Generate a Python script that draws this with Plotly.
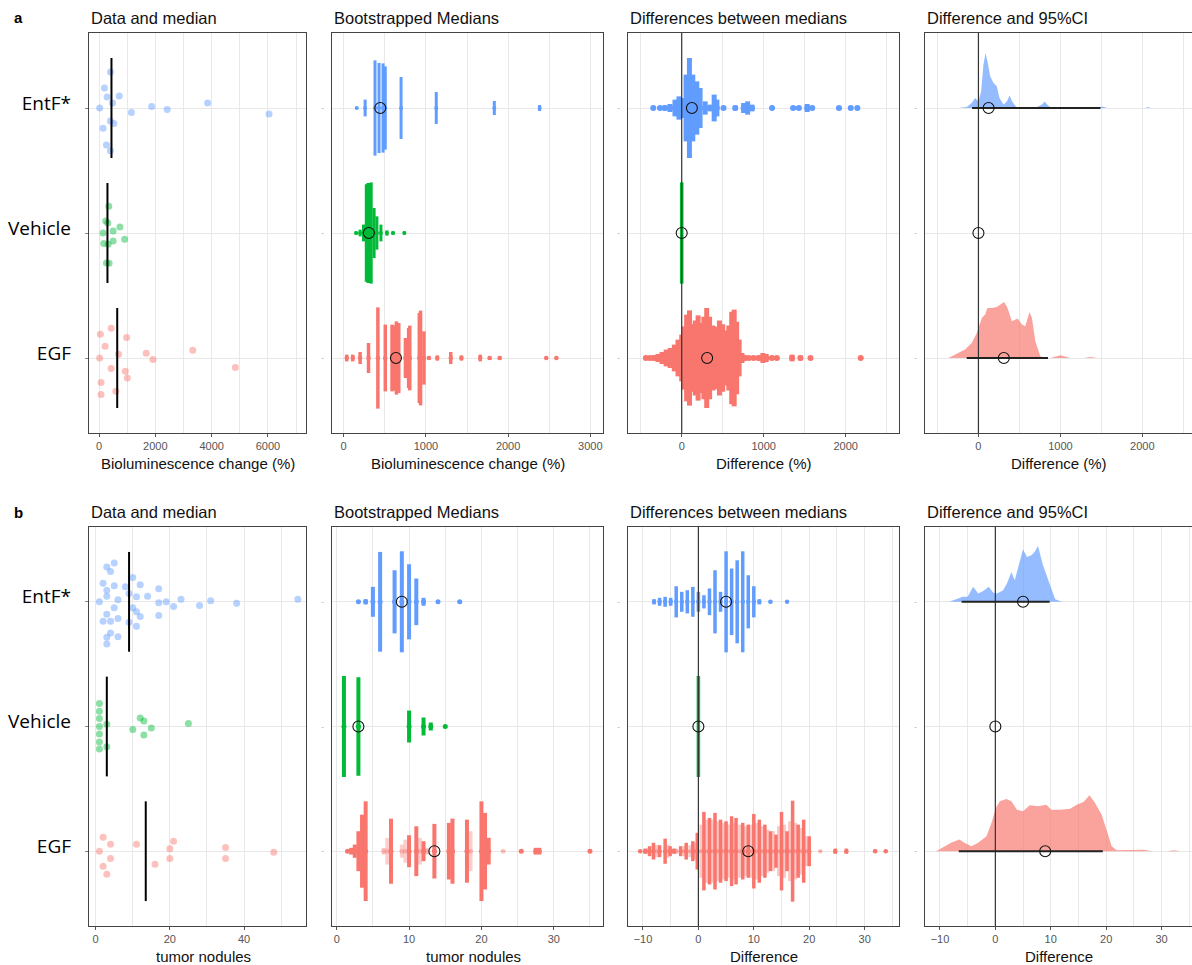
import plotly.graph_objects as go

W, H = 1192, 965

# ---------------- categories ----------------
groups = ["EGF", "Vehicle", "EntF*"]          # bottom -> top
group_pos = [1, 2, 3]
group_rgb = {"EntF*": (97, 156, 255), "Vehicle": (0, 186, 56), "EGF": (248, 118, 109)}

panel_titles = ["Data and median", "Bootstrapped Medians",
                "Differences between medians", "Difference and 95%CI"]
xtitles_a = ["Bioluminescence change (%)", "Bioluminescence change (%)", "Difference (%)", "Difference (%)"]
xtitles_b = ["tumor nodules", "tumor nodules", "Difference", "Difference"]
panel_letters = ["a", "b"]

# ---------------- row a : raw data ----------------
a_data_entf = [407, 192, 719, 288, 479, 24, 1869, 2420, 3857, 6038, 1150, 407, 527, 144, 264, 407]
a_jit_entf = [0.288, 0.16, 0.096, 0.088, 0.04, 0, 0.013, -0.011, 0.04, -0.048, -0.035, -0.104, -0.125, -0.163, -0.296, -0.341]
a_data_veh = [347, 240, 311, 743, 144, 503, 910, 168, 323, 503, 264, 359]
a_jit_veh = [0.213, 0.096, 0.08, 0.048, 0, 0.016, -0.05, -0.085, -0.09, -0.064, -0.24, -0.243]
a_data_egf = [431, 48, 982, 216, 695, 1677, 3330, 24, 1916, 431, 934, 1006, 4840, 72, 599, 72]
a_jit_egf = [0.237, 0.19, 0.163, 0.093, 0.03, 0.037, 0.061, 0, -0.013, -0.085, -0.107, -0.16, -0.077, -0.197, -0.267, -0.293]
a_median = {"EntF*": 443, "Vehicle": 300, "EGF": 647}

# row a : bootstrapped medians (value, half-height of stack)
a_boot_entf_x = [159, 261, 381, 430, 479, 506, 698, 1126, 1832, 2383]
a_boot_entf_h = [0.008, 0.067, 0.381, 0.36, 0.357, 0.333, 0.248, 0.128, 0.056, 0.024]
a_boot_veh_x = [151, 200, 241, 275, 295, 315, 335, 370, 404, 453, 526, 600, 738]
a_boot_veh_h = [0.013, 0.027, 0.067, 0.39, 0.4, 0.4, 0.405, 0.2, 0.133, 0.067, 0.021, 0.013, 0.013]
a_boot_egf_x = [37, 110, 200, 302, 416, 506, 588, 620, 641, 670, 751, 790, 804, 920, 935, 976, 1037, 1139, 1302, 1432, 1661, 1775, 1897, 2464, 2587]
a_boot_egf_h = [0.027, 0.027, 0.048, 0.12, 0.405, 0.267, 0.267, 0.26, 0.293, 0.28, 0.16, 0.24, 0.259, 0.36, 0.379, 0.213, 0.013, 0.021, 0.048, 0.021, 0.027, 0.016, 0.016, 0.008, 0.008]
a_boot_median = {"EntF*": 445, "Vehicle": 306, "EGF": 636}

# row a : differences between bootstrapped medians
a_diff_entf_x = [-347, -265, -204, -143, -82, -33, 0, 53, 94, 135, 184, 224, 286, 347, 396, 429, 510, 653, 755, 804, 857, 1102, 1359, 1428, 1530, 1591, 1918, 2061, 2142]
a_diff_entf_h = [0.008, 0.013, 0.021, 0.032, 0.067, 0.093, 0.08, 0.267, 0.4, 0.267, 0.213, 0.16, 0.053, 0.027, 0.107, 0.067, 0.013, 0.019, 0.04, 0.053, 0.027, 0.008, 0.013, 0.016, 0.032, 0.016, 0.011, 0.016, 0.008]
a_diff_veh_x = [0]
a_diff_veh_h = [0.405]
a_diff_egf_x = [-437, -390, -340, -290, -240, -190, -140, -90, -45, 0, 30, 60, 95, 130, 165, 200, 235, 270, 305, 340, 380, 420, 460, 500, 535, 575, 610, 640, 670, 700, 735, 770, 820, 877, 940, 990, 1030, 1100, 1160, 1346, 1448, 1571, 2183]
a_diff_egf_h = [0.008, 0.011, 0.021, 0.032, 0.048, 0.067, 0.08, 0.107, 0.147, 0.187, 0.253, 0.347, 0.381, 0.27, 0.3, 0.341, 0.28, 0.33, 0.4, 0.33, 0.26, 0.25, 0.3, 0.27, 0.22, 0.26, 0.37, 0.387, 0.29, 0.147, 0.04, 0.021, 0.016, 0.016, 0.021, 0.04, 0.032, 0.013, 0.013, 0.027, 0.019, 0.016, 0.008]
a_diff_median = {"EntF*": 124, "Vehicle": 0, "EGF": 310}

# row a : density of differences and 95% CI
a_dens_entf_x = [-245, -143, -82, -41, 0, 33, 61, 86, 110, 143, 184, 224, 257, 306, 347, 380, 412, 461, 633, 714, 776, 808, 849, 898, 1450, 1510, 1571, 2041, 2069, 2102]
a_dens_entf_h = [0, 0.008, 0.04, 0.08, 0.053, 0.133, 0.347, 0.44, 0.373, 0.253, 0.2, 0.173, 0.08, 0.027, 0.053, 0.101, 0.053, 0.008, 0, 0.008, 0.027, 0.053, 0.021, 0, 0, 0.013, 0, 0, 0.008, 0]
a_dens_egf_x = [-367, -265, -163, -82, -20, 41, 82, 110, 163, 224, 273, 314, 355, 408, 478, 531, 571, 624, 653, 694, 755, 796, 877, 1000, 1122, 1285, 1367, 1449]
a_dens_egf_h = [0, 0.032, 0.067, 0.12, 0.2, 0.32, 0.347, 0.4, 0.4, 0.408, 0.427, 0.448, 0.4, 0.293, 0.315, 0.267, 0.253, 0.368, 0.32, 0.133, 0.013, 0, 0, 0.021, 0, 0, 0.008, 0]
a_ci = {"EntF*": [-78, 1489], "EGF": [-143, 849]}

# ---------------- row b : raw data ----------------
b_data_entf = [5, 3, 4, 10, 2, 5, 8, 12, 3, 17, 9, 3, 11, 14, 6, 1, 17, 19, 23, 31, 21, 28, 38, 54.5, 5, 10, 11, 3, 12, 17, 2, 4, 6, 9, 11, 4, 3, 6, 3]
b_jit_entf = [0.312, 0.28, 0.243, 0.195, 0.149, 0.128, 0.12, 0.136, 0.093, 0.104, 0.067, 0.045, 0.04, 0.045, 0.016, 0, -0.008, 0, 0.021, 0.008, -0.037, -0.029, -0.011, 0.021, -0.048, -0.048, -0.08, -0.099, -0.117, -0.109, -0.155, -0.155, -0.133, -0.163, -0.195, -0.251, -0.285, -0.28, -0.339]
b_data_veh = [1, 1, 1, 1, 1, 1, 1, 3, 3, 12, 13, 15, 10, 13, 25]
b_jit_veh = [0.184, 0.123, 0.064, 0, -0.061, -0.125, -0.181, 0.019, -0.163, 0.069, 0.045, -0.013, -0.024, -0.069, 0.024]
b_data_egf = [2, 4, 11, 21, 1, 20, 35, 48, 4, 20, 35, 2, 16, 3]
b_jit_egf = [0.112, 0.056, 0.056, 0.08, 0, 0.019, 0.029, -0.008, -0.059, -0.059, -0.059, -0.12, -0.104, -0.184]
b_median = {"EntF*": 9, "Vehicle": 3, "EGF": 13.5}

b_boot_entf_x = [3, 4, 5, 6, 8, 9, 10, 11, 12, 14, 17]
b_boot_entf_h = [0.008, 0.021, 0.12, 0.4, 0.253, 0.405, 0.301, 0.187, 0.032, 0.013, 0.013]
b_boot_veh_x = [1, 3, 10, 12, 13, 15]
b_boot_veh_h = [0.405, 0.395, 0.128, 0.072, 0.032, 0.008]
b_boot_egf_x = [1.5, 2, 2.5, 3, 3.5, 4, 7.5, 10, 11, 12, 13.5, 15.5, 16, 18, 20, 20.5, 21, 25.5, 27.5, 28, 35]
b_boot_egf_h = [0.008, 0.027, 0.053, 0.16, 0.293, 0.4, 0.261, 0.128, 0.2, 0.08, 0.219, 0.227, 0.261, 0.253, 0.4, 0.307, 0.107, 0.011, 0.027, 0.027, 0.013]
b_boot_egf_faint_x = [6.5, 7, 9, 9.5, 11.5, 12.5, 18.5, 23]
b_boot_egf_faint_h = [0.027, 0.107, 0.053, 0.093, 0.107, 0.027, 0.16, 0.008]
b_boot_median = {"EntF*": 9, "Vehicle": 3, "EGF": 13.5}

b_diff_entf_x = [-8, -7, -6, -5, -4, -3, -2, -1, 0, 1, 2, 3, 4, 5, 6, 7, 8, 9, 10, 11, 13, 16]
b_diff_entf_h = [0.021, 0.032, 0.04, 0.032, 0.125, 0.08, 0.093, 0.12, 0.08, 0.053, 0.107, 0.253, 0.08, 0.405, 0.267, 0.333, 0.405, 0.213, 0.125, 0.021, 0.011, 0.008]
b_diff_veh_x = [0]
b_diff_veh_h = [0.405]
b_diff_egf_x = [-10.5, -9.6, -8.8, -8.1, -7, -6, -5.1, -4.4, -3.2, -2.2, -1, -0.2, 1, 2, 3, 4, 5, 6, 6.8, 8, 9, 10, 11, 12, 13, 14, 15, 16, 17, 18, 19, 20, 24.7, 26.7, 31.9, 33.8]
b_diff_egf_h = [0.008, 0.021, 0.04, 0.067, 0.048, 0.101, 0.04, 0.021, 0.04, 0.067, 0.08, 0.147, 0.315, 0.267, 0.307, 0.253, 0.24, 0.28, 0.267, 0.227, 0.213, 0.299, 0.253, 0.213, 0.16, 0.133, 0.315, 0.16, 0.405, 0.213, 0.253, 0.12, 0.021, 0.021, 0.013, 0.011]
b_diff_egf_faint_x = [-9, -7.5, -5.5, -4, -2.5, -1.5, -0.5, 0.5, 1.5, 2.5, 3.5, 4.5, 5.5, 6.5, 7.5, 8.5, 9.5, 10.5, 11.5, 12.5, 13.5, 14.5, 15.5, 16.5, 17.5, 18.5, 19.5, 22]
b_diff_egf_faint_h = [0.027, 0.048, 0.053, 0.021, 0.04, 0.048, 0.067, 0.213, 0.253, 0.253, 0.24, 0.227, 0.213, 0.227, 0.213, 0.2, 0.213, 0.227, 0.2, 0.173, 0.16, 0.2, 0.213, 0.24, 0.227, 0.187, 0.12, 0.008]
b_diff_median = {"EntF*": 5, "Vehicle": 0, "EGF": 9}

b_dens_entf_x = [-8.3, -7.1, -5.9, -5.0, -4.0, -3.1, -2.1, -1.2, -0.4, 0.3, 1.4, 2.1, 2.9, 3.5, 4.1, 5.0, 5.7, 6.5, 7.1, 7.7, 8.6, 9.4, 10.1, 10.8, 12.0]
b_dens_entf_h = [0, 0.021, 0.04, 0.04, 0.12, 0.067, 0.088, 0.12, 0.075, 0.067, 0.093, 0.147, 0.24, 0.173, 0.267, 0.421, 0.36, 0.373, 0.4, 0.448, 0.293, 0.2, 0.107, 0.021, 0]
b_dens_egf_x = [-10.7, -9.5, -8.0, -6.5, -5.6, -4.3, -3.1, -1.6, -0.7, 0.1, 0.8, 2.0, 2.9, 3.9, 5.0, 6.2, 7.7, 9.2, 10.1, 11.7, 13.5, 14.7, 15.9, 17.0, 18.0, 19.2, 20.1, 21.0, 21.9, 23.7, 25.2, 26.8, 28.3, 31.0, 32.2, 33.4]
b_dens_egf_h = [0, 0.032, 0.067, 0.093, 0.067, 0.04, 0.067, 0.12, 0.227, 0.347, 0.4, 0.419, 0.4, 0.333, 0.32, 0.368, 0.36, 0.373, 0.333, 0.333, 0.341, 0.373, 0.395, 0.448, 0.387, 0.293, 0.16, 0.04, 0.008, 0.008, 0.013, 0.011, 0, 0, 0.008, 0]
b_ci = {"EntF*": [-6.1, 9.8], "EGF": [-6.6, 19.4]}

# ---------------- layout geometry (pixels) ----------------
col_px = [(89, 306), (332, 603), (628, 899), (925, 1192)]
row_px = [(33, 433), (527, 926)]
x_ranges = [[[-355, 7350], [-142, 3154], [-655, 2650], [-652, 2606]],
            [[-1.8, 56.7], [-0.65, 36.8], [-12.7, 36.2], [-12.7, 35.5]]]
x_dtick = [[2000, 1000, 1000, 1000], [20, 10, 10, 10]]
x_minor = [[1000, 500, 500, 500], [10, 5, 5, 5]]

FONT = "Liberation Sans, Arial, sans-serif"
FRAME = "#444444"
GRID = "#e8e8e8"


def rgba(g, a):
    r, gg, b = group_rgb[g]
    return f"rgba({r},{gg},{b},{a})"


def ypos(g):
    return group_pos[groups.index(g)]


fig = go.Figure()


def axn(k):
    return ("x" if k == 1 else f"x{k}"), ("y" if k == 1 else f"y{k}")


def add_points(k, g, xs, jit, med):
    xa, ya = axn(k)
    c = ypos(g)
    fig.add_trace(go.Scatter(x=xs, y=[c + j for j in jit], mode="markers",
                             marker=dict(size=7, color=rgba(g, 0.45), line=dict(width=0)),
                             xaxis=xa, yaxis=ya, hoverinfo="skip", showlegend=False))
    fig.add_trace(go.Scatter(x=[med, med], y=[c - 0.4, c + 0.4], mode="lines",
                             line=dict(color="black", width=2),
                             xaxis=xa, yaxis=ya, hoverinfo="skip", showlegend=False))


def add_stacks(k, g, xs, hs, alpha=1.0, width=4.5, dot=True):
    xa, ya = axn(k)
    c = ypos(g)
    X, Y = [], []
    for x, h in zip(xs, hs):
        X += [x, x, None]
        Y += [c - h, c + h, None]
    fig.add_trace(go.Scatter(x=X, y=Y, mode="lines", connectgaps=False,
                             line=dict(color=rgba(g, alpha), width=width),
                             xaxis=xa, yaxis=ya, hoverinfo="skip", showlegend=False))
    if dot:
        fig.add_trace(go.Scatter(x=xs, y=[c] * len(xs), mode="markers",
                                 marker=dict(size=width + 1, color=rgba(g, alpha), line=dict(width=0)),
                                 xaxis=xa, yaxis=ya, hoverinfo="skip", showlegend=False))


def add_density(k, g, xs, hs):
    xa, ya = axn(k)
    c = ypos(g)
    fig.add_trace(go.Scatter(x=list(xs) + list(xs[::-1]),
                             y=[c + h for h in hs] + [c] * len(xs),
                             mode="lines", fill="toself", fillcolor=rgba(g, 0.68),
                             line=dict(width=0, color=rgba(g, 0.68)),
                             xaxis=xa, yaxis=ya, hoverinfo="skip", showlegend=False))


def add_zero(k):
    xa, ya = axn(k)
    fig.add_trace(go.Scatter(x=[0, 0], y=[0.4, 3.6], mode="lines",
                             line=dict(color="#333333", width=1.2),
                             xaxis=xa, yaxis=ya, hoverinfo="skip", showlegend=False))


def add_ci(k, cis):
    xa, ya = axn(k)
    for g, (lo, hi) in cis.items():
        c = ypos(g)
        fig.add_trace(go.Scatter(x=[lo, hi], y=[c, c], mode="lines",
                                 line=dict(color="#222222", width=2),
                                 xaxis=xa, yaxis=ya, hoverinfo="skip", showlegend=False))


def add_circles(k, meds):
    xa, ya = axn(k)
    gs = list(meds.keys())
    fig.add_trace(go.Scatter(x=[meds[g] for g in gs], y=[ypos(g) for g in gs], mode="markers",
                             marker=dict(symbol="circle-open", size=11, color="#111111",
                                         line=dict(width=1.1)),
                             xaxis=xa, yaxis=ya, hoverinfo="skip", showlegend=False))


# ----- row a -----
add_points(1, "EntF*", a_data_entf, a_jit_entf, a_median["EntF*"])
add_points(1, "Vehicle", a_data_veh, a_jit_veh, a_median["Vehicle"])
add_points(1, "EGF", a_data_egf, a_jit_egf, a_median["EGF"])

add_stacks(2, "EntF*", a_boot_entf_x, a_boot_entf_h, width=3)
add_stacks(2, "Vehicle", a_boot_veh_x, a_boot_veh_h, width=3)
add_stacks(2, "EGF", a_boot_egf_x, a_boot_egf_h, width=3.5)
add_circles(2, a_boot_median)

add_stacks(3, "EntF*", a_diff_entf_x, a_diff_entf_h, width=5)
add_stacks(3, "EGF", a_diff_egf_x, a_diff_egf_h, width=5)
add_stacks(3, "Vehicle", a_diff_veh_x, a_diff_veh_h, width=3.5, dot=False)
add_zero(3)
add_circles(3, a_diff_median)

add_density(4, "EntF*", a_dens_entf_x, a_dens_entf_h)
add_density(4, "EGF", a_dens_egf_x, a_dens_egf_h)
add_zero(4)
add_ci(4, a_ci)
add_circles(4, a_diff_median)

# ----- row b -----
add_points(5, "EntF*", b_data_entf, b_jit_entf, b_median["EntF*"])
add_points(5, "Vehicle", b_data_veh, b_jit_veh, b_median["Vehicle"])
add_points(5, "EGF", b_data_egf, b_jit_egf, b_median["EGF"])

add_stacks(6, "EntF*", b_boot_entf_x, b_boot_entf_h, width=4)
add_stacks(6, "Vehicle", b_boot_veh_x, b_boot_veh_h, width=4)
add_stacks(6, "EGF", b_boot_egf_faint_x, b_boot_egf_faint_h, alpha=0.35, width=4)
add_stacks(6, "EGF", b_boot_egf_x, b_boot_egf_h, width=4)
add_circles(6, b_boot_median)

add_stacks(7, "EntF*", b_diff_entf_x, b_diff_entf_h, width=3.5)
add_stacks(7, "EGF", b_diff_egf_faint_x, b_diff_egf_faint_h, alpha=0.4, width=3.5)
add_stacks(7, "EGF", b_diff_egf_x, b_diff_egf_h, width=3.5)
add_stacks(7, "Vehicle", b_diff_veh_x, b_diff_veh_h, width=3.5, dot=False)
add_zero(7)
add_circles(7, b_diff_median)

add_density(8, "EntF*", b_dens_entf_x, b_dens_entf_h)
add_density(8, "EGF", b_dens_egf_x, b_dens_egf_h)
add_zero(8)
add_ci(8, b_ci)
add_circles(8, b_diff_median)

# ---------------- axes ----------------
layout = {}
annotations = []
for r in range(2):
    top, bot = row_px[r]
    for ci_, (left, right) in enumerate(col_px):
        k = r * 4 + ci_ + 1
        xn = "xaxis" if k == 1 else f"xaxis{k}"
        yn = "yaxis" if k == 1 else f"yaxis{k}"
        xa, ya = axn(k)
        last = ci_ == 3
        layout[xn] = dict(
            domain=[left / W, min(right / W, 1.0)], anchor=ya,
            range=x_ranges[r][ci_], tickmode="linear", tick0=0, dtick=x_dtick[r][ci_],
            showgrid=True, gridcolor=GRID, gridwidth=1, zeroline=False,
            minor=dict(dtick=x_minor[r][ci_], tick0=0, showgrid=True, gridcolor=GRID, gridwidth=1, ticks=""),
            showline=True, linecolor=FRAME, linewidth=1.3, mirror=True,
            ticks="outside", ticklen=3, tickcolor="#555555", tickwidth=1,
            tickfont=dict(family=FONT, size=11, color="#555555"),
        )
        ydict = dict(
            domain=[1 - bot / H, 1 - top / H], anchor=xa,
            range=[0.4, 3.6], tickmode="array", tickvals=group_pos,
            showgrid=True, gridcolor=GRID, gridwidth=1, zeroline=False,
            showline=True, linecolor=FRAME, linewidth=1.3, mirror=not last,
        )
        if ci_ == 0:
            ydict.update(ticktext=groups, ticks="outside", ticklen=3, tickcolor="#888888",
                         tickfont=dict(family="Open Sans, sans-serif", size=19, color="black"),
                         ticklabelstandoff=10, ticklabelshift=-5)
        else:
            ydict.update(ticktext=["-"] * 3, ticks="",
                         tickfont=dict(family=FONT, size=9, color="#a9bfe0"),
                         ticklabelstandoff=5)
        layout[yn] = ydict

        # panel title
        annotations.append(dict(text=panel_titles[ci_], x=left / W, y=1 - (top - 15) / H,
                                xref="paper", yref="paper", xanchor="left", yanchor="middle",
                                showarrow=False, font=dict(family=FONT, size=16.5, color="#111111")))
        # x axis title
        xt = (xtitles_a if r == 0 else xtitles_b)[ci_]
        cx = (left + right) / 2
        if r == 1 and ci_ < 2:
            cx += 6
        annotations.append(dict(text=xt, x=cx / W, y=1 - (bot + 30) / H,
                                xref="paper", yref="paper", xanchor="center", yanchor="middle",
                                showarrow=False, font=dict(family=FONT, size=15, color="#111111")))
    annotations.append(dict(text=f"<b>{panel_letters[r]}</b>", x=18 / W, y=1 - (top - 15) / H,
                            xref="paper", yref="paper", xanchor="center", yanchor="middle",
                            showarrow=False, font=dict(family=FONT, size=15, color="black")))

fig.update_layout(**layout)
fig.update_layout(width=W, height=H, margin=dict(l=0, r=0, t=0, b=0),
                  paper_bgcolor="white", plot_bgcolor="white", showlegend=False,
                  annotations=annotations)

fig.write_html("out.html", config={"displayModeBar": False},
               post_script="document.body.style.margin='0';document.body.style.overflow='hidden';")
